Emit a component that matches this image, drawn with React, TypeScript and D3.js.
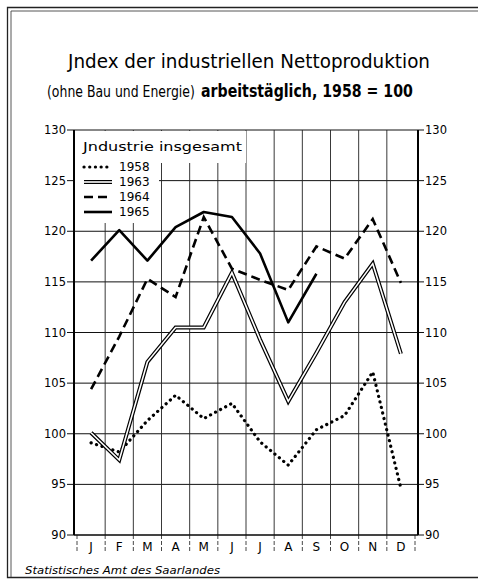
import React, { useEffect, useRef } from 'react';
import * as d3 from 'd3';

const months = ['J', 'F', 'M', 'A', 'M', 'J', 'J', 'A', 'S', 'O', 'N', 'D'];
const yTicks = [90, 95, 100, 105, 110, 115, 120, 125, 130];

// Index values per month
const y1958 = [99.1, 98.2, 101.3, 103.8, 101.5, 103.0, 99.2, 96.9, 100.4, 101.8, 106.1, 94.6];
const y1963 = [100.1, 97.4, 107.1, 110.5, 110.5, 115.9, 109.3, 103.2, 108.0, 113.0, 116.8, 107.9];
const y1964 = [104.4, 109.6, 115.3, 113.5, 121.4, 116.3, 115.2, 114.2, 118.5, 117.3, 121.2, 114.9];
const y1965 = [117.1, 120.1, 117.1, 120.4, 121.9, 121.4, 117.8, 111.0, 115.8];

const font = '"DejaVu Sans", sans-serif';

export default function App() {
  const subRef = useRef<SVGGElement>(null);

  // squeeze the subtitle pieces to their widths in the original (condensed lettering)
  useEffect(() => {
    const g = d3.select(subRef.current);
    g.selectAll<SVGTextElement, unknown>('text').each(function () {
      const el = d3.select(this);
      const target = +el.attr('data-w');
      const x0 = +el.attr('data-x');
      const w = this.getComputedTextLength();
      el.attr('transform', `translate(${x0},97) scale(${target / w},1)`);
    });
  }, []);

  const x = d3.scaleLinear().domain([0, 12]).range([77, 415]);
  const y = d3.scaleLinear().domain([90, 130]).range([535, 130]);
  const left = 74;
  const right = 418;

  const line = d3
    .line<number>()
    .x((_, i) => x(i + 0.5))
    .y((d) => y(d));

  const legend = [
    { label: '1958', key: 'dot' },
    { label: '1963', key: 'double' },
    { label: '1964', key: 'dash' },
    { label: '1965', key: 'solid' },
  ];

  const drawSeries = (key: string, d: string) => {
    if (key === 'dot')
      return (
        <path d={d} fill="none" stroke="#000" strokeWidth={3.2} strokeLinecap="round" strokeDasharray="0.1 5.6" />
      );
    if (key === 'double')
      return (
        <g>
          <path d={d} fill="none" stroke="#000" strokeWidth={4} strokeLinejoin="miter" />
          <path d={d} fill="none" stroke="#fff" strokeWidth={1.6} strokeLinejoin="miter" />
        </g>
      );
    if (key === 'dash')
      return <path d={d} fill="none" stroke="#000" strokeWidth={2.6} strokeDasharray="9 5" />;
    return <path d={d} fill="none" stroke="#000" strokeWidth={2.6} strokeLinejoin="round" />;
  };

  return (
    <svg
      width={478}
      height={582}
      style={{ position: 'absolute', left: 0, top: 0, background: '#fff' }}
      fontFamily={font}
    >
      <rect width={478} height={582} fill="#fff" />
      {/* frame */}
      <path d="M478,7.5 H7.5 V577.5 H478" fill="none" stroke="#222" strokeWidth={1.3} />
      <path d="M478,11 H11 V577" fill="none" stroke="#444" strokeWidth={0.9} />

      {/* title */}
      <text x={68} y={68} fontSize={20} textLength={362} lengthAdjust="spacingAndGlyphs">
        Jndex der industriellen Nettoproduktion
      </text>
      <g ref={subRef}>
        <text data-x={47} data-w={148} fontSize={16} transform="translate(47,97)">
          (ohne Bau und Energie)
        </text>
        <text data-x={201} data-w={212} fontSize={18} fontWeight="bold" transform="translate(201,97)">
          arbeitstäglich, 1958 = 100
        </text>
      </g>

      {/* horizontal grid + ticks */}
      {yTicks.map((t) => (
        <g key={t}>
          <line x1={67} x2={424} y1={y(t)} y2={y(t)} stroke="#111" strokeWidth={1} />
          <text x={66} y={y(t) + 4} fontSize={11.5} textAnchor="end">
            {t}
          </text>
          <text x={425} y={y(t) + 4} fontSize={11.5}>
            {t}
          </text>
        </g>
      ))}

      {/* vertical grid at month boundaries */}
      {d3.range(1, 12).map((m) => (
        <line key={m} x1={x(m)} x2={x(m)} y1={130} y2={535} stroke="#222" strokeWidth={0.9} />
      ))}
      {/* month ticks below axis */}
      {d3.range(0, 13).map((m) => (
        <line
          key={'t' + m}
          x1={x(m)}
          x2={x(m)}
          y1={535}
          y2={553}
          stroke="#333"
          strokeWidth={0.9}
          strokeDasharray="4 2"
        />
      ))}
      {months.map((m, i) => (
        <text key={i} x={x(i + 0.5)} y={551} fontSize={12} textAnchor="middle">
          {m}
        </text>
      ))}

      {/* axes */}
      <line x1={left} x2={left} y1={130} y2={535} stroke="#000" strokeWidth={2} />
      <line x1={right} x2={right} y1={130} y2={535} stroke="#000" strokeWidth={2} />
      <line x1={left} x2={right} y1={535} y2={535} stroke="#000" strokeWidth={1.2} />

      {/* legend block */}
      <rect x={left + 1} y={131} width={171} height={32} fill="#fff" />
      <rect x={left + 1} y={131} width={84} height={92} fill="#fff" />
      <text x={83} y={151} fontSize={13} textLength={159} lengthAdjust="spacingAndGlyphs">
        Jndustrie insgesamt
      </text>
      {legend.map((l, i) => {
        const ly = 167 + i * 15;
        return (
          <g key={l.label}>
            {drawSeries(l.key, `M84,${ly} L112,${ly}`)}
            <text x={119} y={ly + 4} fontSize={12}>
              {l.label}
            </text>
          </g>
        );
      })}

      {/* series */}
      {drawSeries('dot', line(y1958) || '')}
      {drawSeries('double', line(y1963) || '')}
      {drawSeries('dash', line(y1964) || '')}
      {drawSeries('solid', line(y1965) || '')}

      {/* source */}
      <text x={25} y={574} fontSize={11} fontStyle="italic" textLength={195} lengthAdjust="spacingAndGlyphs">
        Statistisches Amt des Saarlandes
      </text>
    </svg>
  );
}
